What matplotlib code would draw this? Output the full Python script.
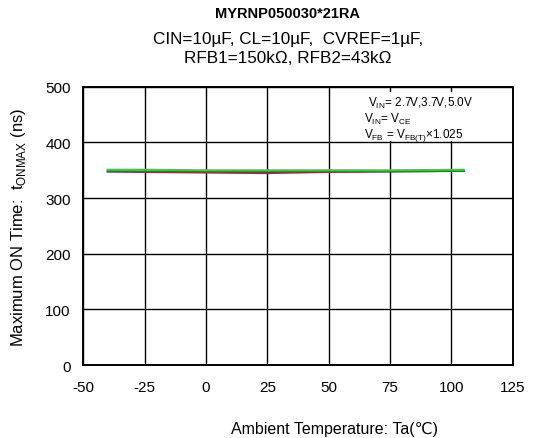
import matplotlib
matplotlib.use("Agg")
import matplotlib.pyplot as plt
from matplotlib.patches import Rectangle

plt.rcParams['font.family'] = ['Liberation Sans', 'DejaVu Sans']
plt.rcParams['mathtext.fontset'] = 'custom'
plt.rcParams['mathtext.rm'] = 'Liberation Sans'
plt.rcParams['axes.unicode_minus'] = False

# temperatures (deg C)
temps = [-40, -25, 0, 25, 50, 75, 105]
# max on time (ns) for VIN = 2.7V, 3.7V, 5.0V
ton_27 = [348, 347, 346, 345, 347, 348, 349]
ton_37 = [348, 348, 348, 348, 348, 348, 349]
ton_50 = [351, 351, 350, 350, 350, 350, 351]

xticks = [-50, -25, 0, 25, 50, 75, 100, 125]
yticks = [0, 100, 200, 300, 400, 500]

fig = plt.figure(figsize=(5.33, 4.39), dpi=100)
ax = fig.add_axes([0.156, 0.166, 0.806, 0.634])

ax.plot(temps, ton_27, color='#ff0000', lw=1.5, zorder=3)
ax.plot(temps, ton_37, color='#1f5fbf', lw=1.5, zorder=3)
ax.plot(temps, ton_50, color='#22dd22', lw=1.5, zorder=3)

ax.set_xlim(-50, 125)
ax.set_ylim(0, 500)
ax.set_xticks(xticks)
ax.set_yticks(yticks)
ax.tick_params(length=0, labelsize=11)
ax.tick_params(axis='x', pad=11)
ax.tick_params(axis='y', pad=9)
ax.grid(True, color='black', lw=1.0)
for s in ax.spines.values():
    s.set_linewidth(1.4)

ax.set_xlabel('Ambient Temperature: Ta(\u2103)', fontsize=11.5)
ax.xaxis.set_label_coords(0.586, -0.2)
ax.set_ylabel(r'Maximum ON Time:  t$_{\mathregular{ONMAX}}$ (ns)', fontsize=12, labelpad=12)

# white box behind the conditions text
ax.add_patch(Rectangle((62, 402), 58, 88, facecolor='white', edgecolor='none', zorder=2))
ax.text(0.663, 0.945, r'V$_{\mathregular{IN}}$= 2.7V,3.7V,5.0V', transform=ax.transAxes,
        fontsize=8.5, va='center', zorder=4)
ax.text(0.654, 0.888, r'V$_{\mathregular{IN}}$= V$_{\mathregular{CE}}$', transform=ax.transAxes,
        fontsize=8.5, va='center', zorder=4)
ax.text(0.654, 0.83, 'V$_{\\mathregular{FB}}$ = V$_{\\mathregular{FB(T)}}$\u00d71.025', transform=ax.transAxes,
        fontsize=8.5, va='center', zorder=4)

fig.text(0.54, 0.968, 'MYRNP050030*21RA', ha='center', va='center', fontsize=10.5, fontweight='bold')
fig.text(0.54, 0.909, 'CIN=10\u00b5F, CL=10\u00b5F,  CVREF=1\u00b5F,', ha='center', va='center', fontsize=12.3)
fig.text(0.54, 0.866, 'RFB1=150k\u03a9, RFB2=43k\u03a9', ha='center', va='center', fontsize=12.3)

fig.savefig('out.png', dpi=100)
